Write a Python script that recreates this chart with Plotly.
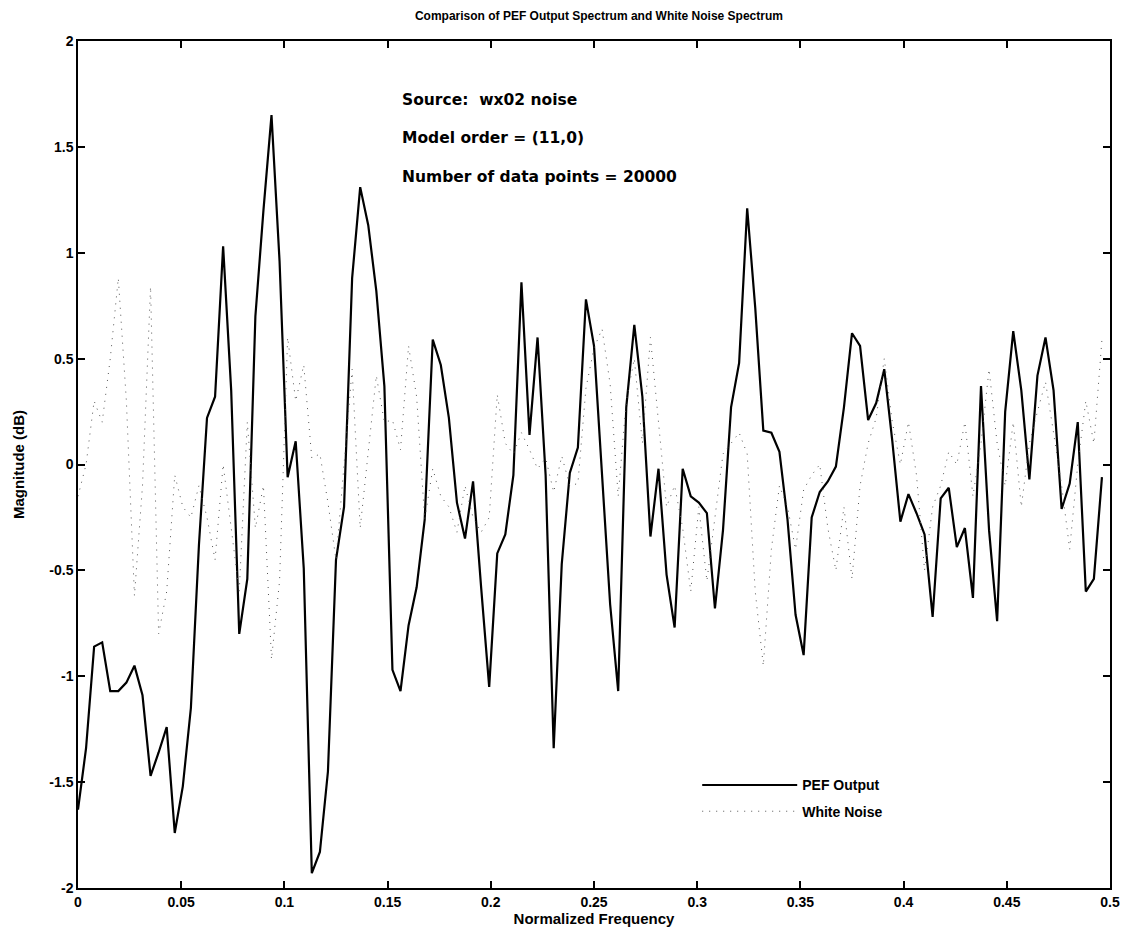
import plotly.graph_objects as go

# frequency grid (normalized frequency, 128 bins up to 0.5)
n_bins = 128
freq = [k / 256 for k in range(n_bins)]

pef_output = [
    -1.63, -1.34, -0.86, -0.84, -1.07, -1.07, -1.03, -0.95, -1.09, -1.47,
    -1.36, -1.24, -1.74, -1.52, -1.15, -0.38, 0.22, 0.32, 1.03, 0.35,
    -0.80, -0.54, 0.70, 1.20, 1.65, 0.96, -0.06, 0.11, -0.49, -1.93,
    -1.83, -1.45, -0.45, -0.20, 0.88, 1.31, 1.13, 0.82, 0.37, -0.97,
    -1.07, -0.76, -0.58, -0.26, 0.59, 0.47, 0.22, -0.18, -0.35, -0.08,
    -0.58, -1.05, -0.42, -0.33, -0.05, 0.86, 0.14, 0.60, -0.05, -1.34,
    -0.47, -0.04, 0.08, 0.78, 0.56, -0.05, -0.66, -1.07, 0.27, 0.66,
    0.32, -0.34, -0.02, -0.52, -0.77, -0.02, -0.15, -0.18, -0.23, -0.68,
    -0.31, 0.27, 0.48, 1.21, 0.74, 0.16, 0.15, 0.06, -0.26, -0.71,
    -0.90, -0.25, -0.13, -0.08, -0.01, 0.27, 0.62, 0.56, 0.21, 0.29,
    0.45, 0.11, -0.27, -0.14, -0.23, -0.33, -0.72, -0.16, -0.11, -0.39,
    -0.30, -0.63, 0.37, -0.31, -0.74, 0.25, 0.63, 0.35, -0.07, 0.42,
    0.60, 0.35, -0.21, -0.09, 0.20, -0.60, -0.54, -0.06,
]

white_noise = [
    -0.15, 0.00, 0.30, 0.20, 0.50, 0.88, 0.30, -0.62, -0.10, 0.84,
    -0.80, -0.60, -0.05, -0.20, -0.25, -0.10, -0.25, -0.45, 0.00, -0.30,
    -0.60, 0.20, -0.30, -0.10, -0.92, -0.55, 0.60, 0.30, 0.47, 0.03,
    0.05, -0.18, -0.45, 0.00, 0.45, -0.30, 0.05, 0.42, 0.20, 0.21,
    0.07, 0.56, 0.32, -0.26, -0.02, -0.15, -0.20, -0.32, -0.10, -0.25,
    -0.32, -0.25, 0.33, 0.10, 0.05, 0.15, 0.07, -0.02, 0.03, -0.13,
    0.04, -0.10, -0.09, 0.36, 0.55, 0.64, 0.38, -0.15, 0.30, 0.50,
    0.10, 0.60, 0.20, -0.20, -0.10, -0.30, -0.60, -0.20, -0.55, -0.25,
    0.05, 0.10, 0.15, 0.05, -0.60, -0.95, -0.40, -0.10, -0.20, -0.40,
    -0.12, -0.05, 0.00, -0.30, -0.50, -0.20, -0.54, -0.10, 0.10, 0.22,
    0.50, 0.20, 0.00, 0.20, -0.05, -0.50, -0.20, -0.10, 0.06, 0.00,
    0.20, -0.15, 0.10, 0.45, 0.10, -0.10, 0.20, -0.20, 0.10, 0.25,
    0.39, 0.15, -0.10, -0.40, 0.00, 0.30, 0.10, 0.59,
]

x_ticks = [0, 0.05, 0.1, 0.15, 0.2, 0.25, 0.3, 0.35, 0.4, 0.45, 0.5]
x_ticktext = ["0", "0.05", "0.1", "0.15", "0.2", "0.25", "0.3", "0.35", "0.4", "0.45", "0.5"]
y_ticks = [-2, -1.5, -1, -0.5, 0, 0.5, 1, 1.5, 2]
y_ticktext = ["-2", "-1.5", "-1", "-0.5", "0", "0.5", "1", "1.5", "2"]

info_lines = ["Source:  wx02 noise", "Model order = (11,0)", "Number of data points = 20000"]

FONT = "Liberation Sans"
WIDE = "DejaVu Sans"

fig = go.Figure()
fig.add_trace(go.Scatter(
    x=freq, y=pef_output, mode="lines", name="PEF Output", legendgroup="a",
    line=dict(color="black", width=2.2),
))
fig.add_trace(go.Scatter(
    x=freq, y=white_noise, mode="lines", name="White Noise", legendgroup="b",
    line=dict(color="#555555", width=1, dash="1px,6px"),
))

axis_common = dict(
    showgrid=False, zeroline=False, showline=True, linecolor="black", linewidth=1.5,
    mirror="ticks", ticks="inside", ticklen=7, tickcolor="black", tickwidth=1.5,
    automargin=False,
    tickfont=dict(family=FONT, size=14, color="black", weight="bold"),
)

fig.update_layout(
    width=1115, height=920,
    margin=dict(l=70, r=13, t=33, b=40),
    paper_bgcolor="white", plot_bgcolor="white",
    title=dict(
        text="<b>Comparison of PEF Output Spectrum and White Noise Spectrum</b>",
        x=0.53, xanchor="center", y=0.991, yanchor="middle",
        font=dict(family=FONT, size=12, color="black"),
    ),
    xaxis=dict(
        range=[0, 0.5], tickvals=x_ticks, ticktext=x_ticktext,
        title=dict(text="<b>Normalized Frequency</b>", standoff=3,
                   font=dict(family=FONT, size=15, color="black")),
        **axis_common,
    ),
    yaxis=dict(
        range=[-2, 2], tickvals=y_ticks, ticktext=y_ticktext,
        title=dict(text="<b>Magnitude (dB)</b>", standoff=21,
                   font=dict(family=FONT, size=15, color="black")),
        **axis_common,
    ),
    legend=dict(
        x=0.6, y=0.14, xanchor="left", yanchor="top",
        bgcolor="rgba(0,0,0,0)", borderwidth=0,
        itemwidth=95, tracegroupgap=5,
        font=dict(family=FONT, size=14, color="black", weight="bold"),
    ),
    showlegend=True,
)

for i, line in enumerate(info_lines):
    fig.add_annotation(
        xref="paper", yref="paper", x=0.312, y=0.93 - i * 0.045,
        xanchor="left", yanchor="middle", showarrow=False,
        text="<b>" + line + "</b>",
        font=dict(family=WIDE, size=15.5, color="black"),
    )

fig.write_html("out.html")
